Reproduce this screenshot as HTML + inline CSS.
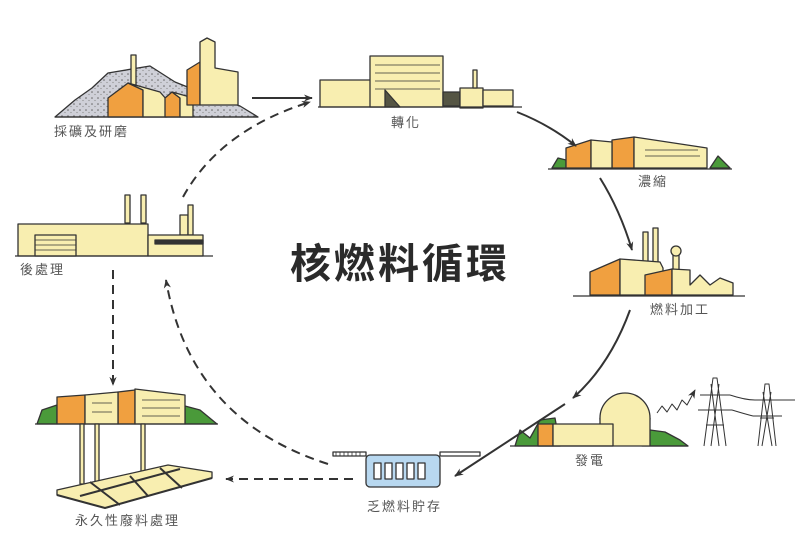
<!DOCTYPE html>
<html><head><meta charset="utf-8"><style>
body{margin:0;background:#fff}
svg{display:block}
text{font-family:"Liberation Sans","Noto Sans CJK TC",sans-serif}
.l{font-size:13px;fill:#555;letter-spacing:2px}
</style></head><body>
<svg width="800" height="546" viewBox="0 0 800 546">
<defs>
<marker id="a" viewBox="0 0 10 10" refX="9" refY="5" markerWidth="9" markerHeight="9" orient="auto" markerUnits="userSpaceOnUse"><path d="M0,1 L10,5 L0,9 L3,5z" fill="#333"/></marker>
<pattern id="g" width="6" height="6" patternUnits="userSpaceOnUse"><rect width="6" height="6" fill="#cfd0d8"/><circle cx="2" cy="2" r="0.8" fill="#666"/><circle cx="5" cy="4.5" r="0.6" fill="#888"/></pattern>
</defs>
<g stroke="#333" stroke-width="1.3" stroke-linejoin="round">
<!-- mining -->
<path d="M55,117 L75,100 L92,88 L108,73 L150,66 L175,82 L200,92 L240,106 L258,117z" fill="url(#g)"/>
<rect x="131" y="55" width="5" height="30" fill="#f8eeb0"/>
<path d="M108,117 V98 L128,83 L143,90 V117z" fill="#f0a040"/>
<path d="M128,83 L160,92 L167,100 V117 H143 V90z" fill="#f8eeb0"/>
<path d="M165,117 V98 L172,92 L180,98 V117z" fill="#f0a040"/>
<path d="M172,92 L190,97 L193,102 V117 H180 V98z" fill="#f8eeb0"/>
<path d="M187,105 V70 L200,62 V105z" fill="#f0a040"/>
<path d="M200,105 V42 L207,38 L215,42 V68 L238,72 V105z" fill="#f8eeb0"/>
<line x1="55" y1="117" x2="258" y2="117"/>
<!-- conversion -->
<rect x="320" y="80" width="65" height="27" fill="#f8eeb0"/>
<rect x="370" y="56" width="73" height="51" fill="#f8eeb0"/>
<path d="M385,107 L385,90 L400,107z" fill="#554"/>
<rect x="443" y="92" width="17" height="14" fill="#554"/>
<rect x="460" y="88" width="23" height="20" fill="#f8eeb0"/>
<rect x="473" y="70" width="4" height="18" fill="#f8eeb0"/>
<rect x="483" y="90" width="30" height="16" fill="#f8eeb0"/>
<line x1="318" y1="107" x2="522" y2="107"/>
<path d="M375,65 H440 M375,73 H440 M375,81 H440 M375,89 H440" stroke-width="0.8"/>
<!-- enrichment -->
<path d="M552,168 L558,158 L566,160 V168z M710,168 L718,156 L730,168z" fill="#4a9a3a"/>
<path d="M566,168 V148 L591,140 V168z M612,168 V140 L634,137 V168z" fill="#f0a040"/>
<path d="M591,140 L612,142 V168 H591z M634,137 L707,148 V168 H634z" fill="#f8eeb0"/>
<path d="M645,150 H698 M645,156 H700" stroke-width="0.8"/>
<line x1="548" y1="169" x2="732" y2="169"/>
<!-- fuel fab -->
<rect x="643" y="232" width="5" height="32" fill="#f8eeb0"/>
<rect x="653" y="228" width="5" height="36" fill="#f8eeb0"/>
<rect x="673" y="250" width="6" height="20" fill="#f8eeb0"/><circle cx="676" cy="251" r="5" fill="#f8eeb0"/>
<path d="M590,295 V272 L620,259 V295z" fill="#f0a040"/>
<path d="M620,259 L660,262 L663,268 V295 H620z" fill="#f8eeb0"/>
<path d="M645,295 V275 L672,269 V295z" fill="#f0a040"/>
<path d="M672,269 L690,270 L690,285 L700,275 L710,285 L720,278 L733,283 V295 H672z" fill="#f8eeb0"/>
<line x1="573" y1="296" x2="745" y2="296"/>
<!-- power -->
<path d="M515,446 L520,430 L530,438 L540,420 L555,418 L560,446z M642,446 L650,430 L665,432 L680,440 L688,446z" fill="#4a9a3a"/>
<circle cx="625" cy="418" r="25" fill="#f8eeb0"/>
<rect x="600" y="418" width="50" height="28" fill="#f8eeb0" stroke="none"/>
<path d="M600,418 V446 M650,418 V446"/>
<rect x="538" y="424" width="15" height="22" fill="#f0a040"/>
<rect x="553" y="424" width="60" height="22" fill="#f8eeb0"/>
<line x1="510" y1="446" x2="688" y2="446"/>
<g fill="none" stroke-width="1">
<path d="M704,446 L713,378 L717,378 L726,446 M708,410 H722 M706,425 H724 M710,395 H720 M700,395 H730 M698,410 H732 M711,384 L719,446 M719,384 L711,446"/>
<path d="M758,446 L765,384 L769,384 L776,446 M760,418 H774 M755,400 H780 M753,416 H782 M763,392 L772,446 M771,392 L762,446"/>
<path d="M730,395 Q745,400 755,400 M732,410 Q745,414 753,416 M780,400 H795"/>
<path d="M657,413 L662,406 L667,412 L672,404 L677,410 L682,400 L687,405 L695,390" marker-end="url(#a)"/>
</g>
<!-- storage -->
<rect x="333" y="452" width="33" height="4" fill="#fff"/>
<path d="M336,452 V456 M340,452 V456 M344,452 V456 M348,452 V456 M352,452 V456 M356,452 V456 M360,452 V456" stroke-width="0.8"/>
<rect x="440" y="452" width="40" height="4" fill="#fff"/>
<rect x="366" y="455" width="74" height="32" rx="4" fill="#b8d8f0"/>
<g fill="#fff"><rect x="374" y="463" width="7" height="16"/><rect x="385" y="463" width="7" height="16"/><rect x="396" y="463" width="7" height="16"/><rect x="407" y="463" width="7" height="16"/><rect x="418" y="463" width="7" height="16"/></g>
<!-- disposal -->
<path d="M37,424 L42,410 L57,405 V424z M185,424 V406 L200,410 L217,424z" fill="#4a9a3a"/>
<path d="M57,424 V397 L85,395 V424z M118,424 V392 L135,390 V424z" fill="#f0a040"/>
<path d="M85,395 L118,392 V424 H85z M135,389 L185,395 V424 H135z" fill="#f8eeb0"/>
<path d="M92,403 H112 M92,412 H112 M142,400 H180 M142,408 H180 M142,416 H180" stroke-width="0.8"/>
<line x1="35" y1="424" x2="218" y2="424"/>
<rect x="80" y="424" width="4" height="60" fill="#f8eeb0"/><rect x="95" y="424" width="4" height="62" fill="#f8eeb0"/><rect x="141" y="424" width="4" height="52" fill="#f8eeb0"/>
<path d="M57,490 L168,465 L212,472 L212,478 L105,508 L57,495z" fill="#f8eeb0"/>
<path d="M57,495 L105,508 L212,478 M80,496 L180,469 M90,482 L120,505 M130,476 L148,496 M160,468 L182,488" fill="none" stroke-width="2"/>
<!-- reprocessing -->
<rect x="125" y="195" width="5" height="28" fill="#f8eeb0"/><rect x="141" y="195" width="5" height="28" fill="#f8eeb0"/>
<rect x="180" y="215" width="8" height="20" fill="#f8eeb0"/><rect x="188" y="205" width="5" height="30" fill="#f8eeb0"/>
<rect x="18" y="224" width="130" height="32" fill="#f8eeb0"/>
<rect x="35" y="235" width="41" height="21" fill="#f8eeb0"/>
<path d="M35,240 H76 M35,245 H76 M35,250 H76" stroke-width="0.8"/>
<rect x="148" y="235" width="55" height="21" fill="#f8eeb0"/>
<rect x="155" y="240" width="48" height="4" fill="#333"/>
<line x1="15" y1="256" x2="213" y2="256"/>
</g>
<!-- arrows -->
<g fill="none" stroke="#333" stroke-width="2" marker-end="url(#a)">
<path d="M252,98 L312,98"/>
<path d="M517,112 Q550,125 576,146"/>
<path d="M600,178 Q620,210 632,250"/>
<path d="M630,310 Q610,365 573,398"/>
<path d="M565,404 L455,476"/>
</g>
<g fill="none" stroke="#333" stroke-width="2" stroke-dasharray="9,6" marker-end="url(#a)">
<path d="M183,197 Q220,130 310,102"/>
<path d="M113,270 V385"/>
<path d="M328,464 Q190,420 166,280"/>
<path d="M353,479 H226"/>
</g>
<text x="290" y="278" font-size="41" font-weight="bold" fill="#2a2a2a" letter-spacing="3">核燃料循環</text>
<text class="l" x="54" y="136">採礦及研磨</text>
<text class="l" x="391" y="127">轉化</text>
<text class="l" x="638" y="186">濃縮</text>
<text class="l" x="650" y="314">燃料加工</text>
<text class="l" x="575" y="465">發電</text>
<text class="l" x="367" y="511">乏燃料貯存</text>
<text class="l" x="75" y="525">永久性廢料處理</text>
<text class="l" x="20" y="274">後處理</text>
</svg>
</body></html>
